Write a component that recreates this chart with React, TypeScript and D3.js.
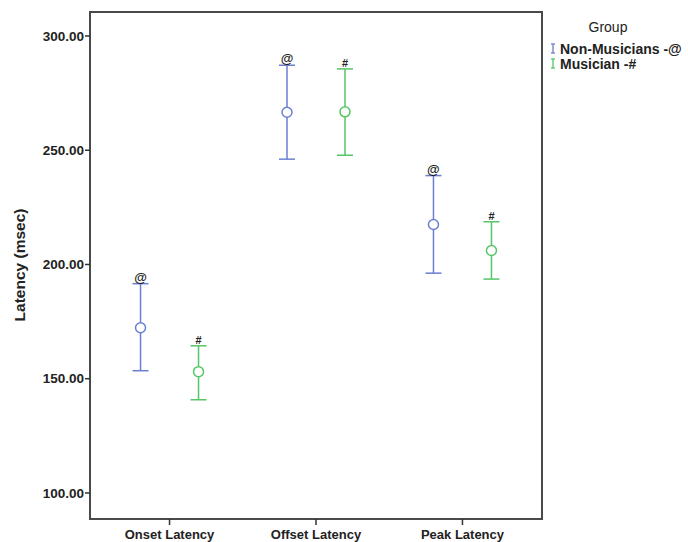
import React from "react";
import * as d3 from "d3";

const categories = ["Onset Latency", "Offset Latency", "Peak Latency"];
const groups = ["Non-Musicians -@", "Musician -#"];
const marks = ["@", "#"];
const colors = ["#6a7fd2", "#55c665"];

// mean, lower, upper per category
const nonMusMean = [172.3, 266.6, 217.5];
const nonMusLow = [153.5, 246.1, 196.2];
const nonMusHigh = [191.6, 287.2, 238.9];
const musMean = [153.1, 266.8, 206.1];
const musLow = [140.8, 247.8, 193.6];
const musHigh = [164.4, 285.6, 218.7];

const yTicks = [100, 150, 200, 250, 300];

export default function App() {
  const W = 688;
  const H = 542;
  const left = 90, right = 542, top = 12, bottom = 519;

  const x = d3.scalePoint().domain(categories).range([left, right]).padding(0.543);
  const xInner = d3.scalePoint().domain(groups).range([-29, 29]);
  const y = d3.scaleLinear().domain([88.6, 310.5]).range([bottom, top]);

  const series = [
    { mean: nonMusMean, low: nonMusLow, high: nonMusHigh },
    { mean: musMean, low: musLow, high: musHigh },
  ];

  const sans = "'Liberation Sans', Arial, sans-serif";

  return (
    <svg width={W} height={H} style={{ position: "absolute", left: 0, top: 0 }}>
      <rect x={0} y={0} width={W} height={H} fill="#fff" />
      {/* frame */}
      <rect x={left} y={top} width={right - left} height={bottom - top} fill="none" stroke="#4a4a4a" strokeWidth={2} />

      {/* y axis */}
      {yTicks.map((t) => (
        <g key={t}>
          <line x1={left - 5} x2={left} y1={y(t)} y2={y(t)} stroke="#333" strokeWidth={1.5} />
          <text x={left - 6} y={y(t)} dy="0.35em" textAnchor="end" fontFamily={sans} fontWeight="bold" fontSize={13.5} fill="#222">
            {t.toFixed(2)}
          </text>
        </g>
      ))}
      <text transform={`translate(25,265) rotate(-90)`} textAnchor="middle" fontFamily={sans} fontWeight="bold" fontSize={15.5} fill="#222">
        Latency (msec)
      </text>

      {/* x axis */}
      {categories.map((c) => (
        <g key={c}>
          <line x1={x(c)} x2={x(c)} y1={bottom} y2={bottom + 6} stroke="#333" strokeWidth={1.5} />
          <text x={x(c)} y={bottom + 20} textAnchor="middle" fontFamily={sans} fontWeight="bold" fontSize={13} fill="#222">
            {c}
          </text>
        </g>
      ))}

      {/* error bars */}
      {series.map((s, gi) =>
        categories.map((c, ci) => {
          const cx = (x(c) as number) + (xInner(groups[gi]) as number);
          const col = colors[gi];
          return (
            <g key={`${gi}-${ci}`}>
              <line x1={cx} x2={cx} y1={y(s.low[ci])} y2={y(s.high[ci])} stroke={col} strokeWidth={1.5} />
              <line x1={cx - 8} x2={cx + 8} y1={y(s.low[ci])} y2={y(s.low[ci])} stroke={col} strokeWidth={1.5} />
              <line x1={cx - 8} x2={cx + 8} y1={y(s.high[ci])} y2={y(s.high[ci])} stroke={col} strokeWidth={1.5} />
              <circle cx={cx} cy={y(s.mean[ci])} r={5} fill="#fff" stroke={col} strokeWidth={1.5} />
              <text x={cx} y={y(s.high[ci]) - 2} textAnchor="middle" fontFamily={sans} fontWeight="bold" fontSize={gi === 0 ? 13 : 11} fill="#222">
                {marks[gi]}
              </text>
            </g>
          );
        })
      )}

      {/* legend */}
      <text x={608} y={32} textAnchor="middle" fontFamily={sans} fontSize={14} fill="#222">
        Group
      </text>
      {groups.map((g, i) => {
        const ly = 49 + i * 15;
        return (
          <g key={g}>
            <line x1={553} x2={553} y1={ly - 5} y2={ly + 4} stroke={colors[i]} strokeWidth={1.3} />
            <line x1={551} x2={555} y1={ly - 5} y2={ly - 5} stroke={colors[i]} strokeWidth={1.3} />
            <line x1={551} x2={555} y1={ly + 4} y2={ly + 4} stroke={colors[i]} strokeWidth={1.3} />
            <text x={560} y={ly} dy="0.35em" fontFamily={sans} fontWeight="bold" fontSize={14} fill="#222">
              {g}
            </text>
          </g>
        );
      })}
    </svg>
  );
}
